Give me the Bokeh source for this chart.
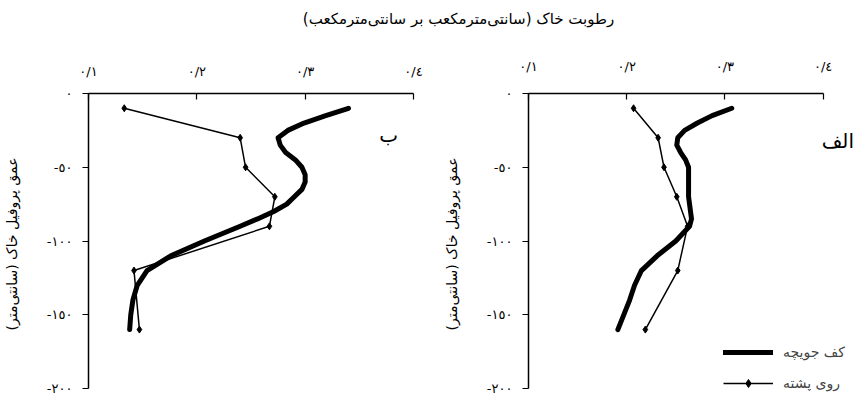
from bokeh.plotting import figure
from bokeh.models import Range1d, FixedTicker, Label, Legend, LegendItem
from bokeh.layouts import column, row
from bokeh.embed import file_html
from bokeh.resources import INLINE
from bokeh.core.properties import value

FONT = "DejaVu Sans"

title_text = "رطوبت خاک (سانتی‌مترمکعب بر سانتی‌مترمکعب)"
ylabel_text = "عمق پروفیل خاک (سانتی‌متر)"
series_names = ["کف جویچه", "روی پشته"]
panel_names = ["ب", "الف"]

x_ticks = [0.1, 0.2, 0.3, 0.4]
x_tick_labels = ["٠/١", "٠/٢", "٠/٣", "٠/٤"]
y_ticks = [0, -50, -100, -150, -200]
y_tick_labels = ["٠", "-٥٠", "-١٠٠", "-١٥٠", "-٢٠٠"]

# روی پشته (ridge top) – measured points
ridge_depth = [-10, -30, -50, -70, -90, -120, -160]
ridge_b = [0.133, 0.240, 0.245, 0.272, 0.267, 0.142, 0.147]
ridge_alef = [0.207, 0.232, 0.238, 0.251, 0.262, 0.252, 0.219]

# کف جویچه (furrow bottom)
furrow_depth = [-10, -15, -20, -25, -30, -35, -40, -45, -50, -55, -60, -65,
                -70, -75, -80, -85, -90, -100, -110, -120, -130, -140,
                -150, -160]
furrow_b = [0.340, 0.319, 0.299, 0.284, 0.275, 0.277, 0.282, 0.291, 0.297,
            0.300, 0.300, 0.297, 0.290, 0.283, 0.271, 0.256, 0.240, 0.207,
            0.176, 0.154, 0.145, 0.141, 0.139, 0.138]
furrow_alef = [0.307, 0.287, 0.272, 0.259, 0.252, 0.251, 0.255, 0.260,
               0.263, 0.263, 0.263, 0.263, 0.263, 0.264, 0.265, 0.266,
               0.264, 0.250, 0.231, 0.215, 0.208, 0.203, 0.197, 0.191]


def make_panel(width, right, top, bottom, x_max, furrow, ridge, letter,
               letter_xy, x_standoff):
    p = figure(width=width, height=366, output_backend="svg",
               toolbar_location=None, x_axis_location="above",
               x_range=Range1d(0.1, x_max), y_range=Range1d(-204, 0),
               min_border_left=88, min_border_right=right,
               min_border_top=top, min_border_bottom=bottom)
    p.outline_line_color = None
    p.grid.visible = False
    p.background_fill_color = "white"
    p.border_fill_color = "white"

    xa = p.xaxis[0]
    xa.bounds = (0.1, 0.4)
    xa.ticker = FixedTicker(ticks=x_ticks)
    xa.major_label_overrides = dict(zip(x_ticks, x_tick_labels))
    xa.major_tick_in = 6
    xa.major_tick_out = 0
    xa.minor_tick_line_color = None
    xa.axis_line_width = 1.5
    xa.major_tick_line_width = 1.2
    xa.major_label_standoff = x_standoff
    xa.major_label_text_font = FONT
    xa.major_label_text_font_size = "13px"
    xa.major_label_text_color = "black"
    xa.axis_line_color = "black"

    ya = p.yaxis[0]
    ya.bounds = (-200, 0)
    ya.ticker = FixedTicker(ticks=y_ticks)
    ya.major_label_overrides = dict(zip(y_ticks, y_tick_labels))
    ya.major_tick_in = 0
    ya.major_tick_out = 6
    ya.minor_tick_line_color = None
    ya.axis_line_width = 1.5
    ya.major_tick_line_width = 1.2
    ya.major_label_standoff = 10
    ya.major_label_text_font = FONT
    ya.major_label_text_font_size = "13px"
    ya.major_label_text_color = "black"
    ya.axis_line_color = "black"
    ya.axis_label = ylabel_text
    ya.axis_label_standoff = 24
    ya.axis_label_text_font = FONT
    ya.axis_label_text_font_size = "14px"
    ya.axis_label_text_font_style = "normal"
    ya.axis_label_text_color = "black"

    r_thick = p.line(furrow, furrow_depth, line_width=5, color="black",
                     line_join="round", line_cap="round")
    r_thin = p.line(ridge, ridge_depth, line_width=1.5, color="black",
                    line_join="round")
    r_pts = p.scatter(ridge, ridge_depth, marker="diamond", size=7,
                      color="black")

    p.add_layout(Label(x=letter_xy[0], y=letter_xy[1], text=letter,
                       text_font=FONT, text_font_size="20px",
                       text_align="center", text_baseline="middle",
                       text_color="black"))
    return p, r_thick, r_thin, r_pts


p_left, _, _, _ = make_panel(440, 27, 58, 1, 0.4, furrow_b, ridge_b,
                             panel_names[0], (0.377, -28), 15)
p_right, rt, rl, rp = make_panel(416, 1, 63, 2, 0.433, furrow_alef,
                                 ridge_alef, panel_names[1], (0.415, -32),
                                 20)

legend = Legend(items=[
    LegendItem(label=value(series_names[0]), renderers=[rt]),
    LegendItem(label=value(series_names[1]), renderers=[rl, rp]),
], location=(195, 1), orientation="vertical", glyph_width=50,
    glyph_height=20, spacing=11, padding=0, margin=0, label_standoff=10,
    border_line_color=None, background_fill_alpha=0,
    label_text_font=FONT, label_text_font_size="14px")
p_right.add_layout(legend)

header = figure(width=856, height=30, output_backend="svg",
                toolbar_location=None, x_axis_location=None,
                y_axis_location=None, x_range=Range1d(0, 856),
                y_range=Range1d(0, 30), min_border=0)
header.outline_line_color = None
header.grid.visible = False
header.add_layout(Label(x=458, y=12, text=title_text, text_font=FONT,
                        text_font_size="15px", text_align="center",
                        text_baseline="middle", text_color="black"))

layout = column(header, row(p_left, p_right))
open("out.html", "w").write(file_html(layout, INLINE))
